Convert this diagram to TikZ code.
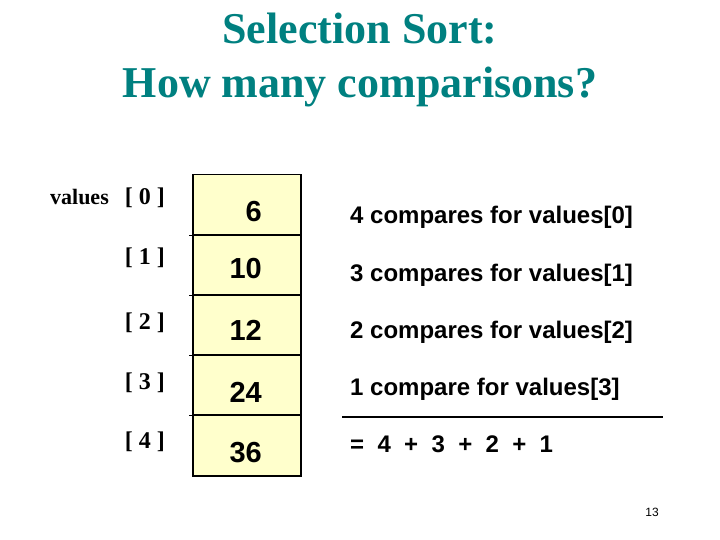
\documentclass[tikz,border=0pt]{standalone}
\usepackage{fontspec}
\setmainfont{Liberation Serif}
\newfontfamily\arialf{Liberation Sans}
\definecolor{titleteal}{HTML}{008080}
\definecolor{cellyellow}{HTML}{FFFFCC}
\begin{document}
\begin{tikzpicture}[x=1pt,y=-1pt,
  titletext/.style={anchor=base, text=titleteal, font=\fontsize{44}{48}\selectfont\bfseries, inner sep=0pt},
  idxtext/.style={anchor=base east, font=\fontsize{24}{26}\selectfont\bfseries, inner sep=0pt},
  celltext/.style={anchor=base east, font=\arialf\fontsize{29}{32}\selectfont\bfseries, inner sep=0pt},
  cmptext/.style={anchor=base west, font=\arialf\fontsize{24}{26}\selectfont\bfseries, inner sep=0pt},
  cellbox/.style={draw=black, line width=1.5pt, fill=cellyellow, minimum width=108pt, minimum height=60pt, inner sep=0pt, anchor=north west}
]
\useasboundingbox (0,0) rectangle (720,540);
% title
\node[titletext] (t1) at (360,44) {Selection Sort:};
\node[titletext] (t2) at (360,98) {How many comparisons?};
% cells
\node[cellbox] (c0) at (192,174) {};
\node[cellbox] (c1) at (192,234) {};
\node[cellbox] (c2) at (192,294) {};
\node[cellbox] (c3) at (192,354) {};
\node[cellbox, minimum height=61pt] (c4) at (192,414) {};
\foreach \i in {0,1,2,3} \draw[line width=1.5pt] ([xshift=-3pt]c\i.south west) -- (c\i.south east);
% numbers
\node[celltext] (n0) at (262,222) {6};
\node[celltext] (n1) at (262,278) {10};
\node[celltext] (n2) at (262,340) {12};
\node[celltext] (n3) at (262,402) {24};
\node[celltext] (n4) at (262,462) {36};
% index labels
\node[idxtext] (i0) at (165,205) {{\fontsize{22}{24}\selectfont values}\ \ \,[ 0 ]};
\node[idxtext] (i1) at (165,264) {[ 1 ]};
\node[idxtext] (i2) at (165,329) {[ 2 ]};
\node[idxtext] (i3) at (165,389) {[ 3 ]};
\node[idxtext] (i4) at (165,448) {[ 4 ]};
% comparisons
\node[cmptext] (r0) at (350,224) {4 compares for values[0]};
\node[cmptext] (r1) at (350,281) {3 compares for values[1]};
\node[cmptext] (r2) at (350,338) {2 compares for values[2]};
\node[cmptext] (r3) at (350,395) {1 compare for values[3]};
\coordinate (ruleL) at (342,417);
\coordinate (ruleR) at (663,417);
\draw[line width=1.5pt] (ruleL) -- (ruleR);
\node[cmptext] (sum) at (350,452) {=\ \ 4\ \ +\ \ 3\ \ +\ \ 2\ \ +\ \ 1};
% page number
\node[anchor=base east, font=\arialf\fontsize{12}{14}\selectfont, inner sep=0pt] (pg) at (659,516) {13};
\end{tikzpicture}
\end{document}
